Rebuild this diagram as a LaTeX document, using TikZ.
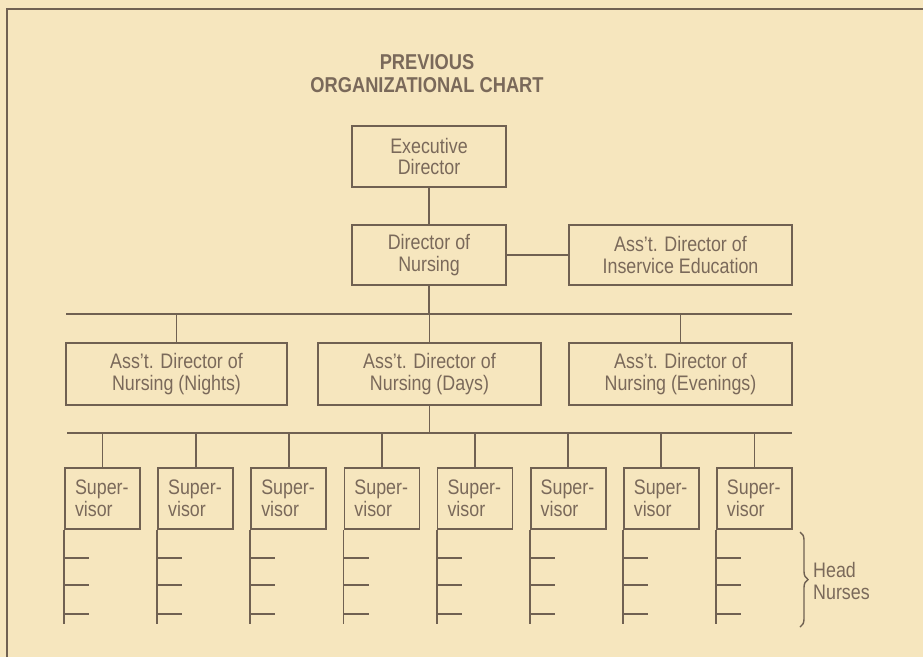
\documentclass[tikz,border=0pt]{standalone}
\usepackage{fontspec}
\setmainfont{Liberation Sans}[FakeStretch=0.85]
\usetikzlibrary{decorations.pathreplacing}

\definecolor{paper}{RGB}{246,230,190}
\definecolor{rulec}{RGB}{112,97,82}
\definecolor{inkc}{RGB}{122,105,90}

\newcommand{\boxfont}{\fontsize{21}{21.5}\selectfont}
\newcommand{\headfont}{\fontsize{21.5}{23}\selectfont\bfseries}

\tikzset{
  link/.style={draw=rulec, line width=1.8pt},
  chartbox/.style={draw=rulec, line width=1.8pt, text=inkc, font=\boxfont,
    align=center, inner sep=0pt},
  supbox/.style={draw=rulec, line width=1.8pt, text=inkc, font=\boxfont,
    align=left, text width=55pt, inner xsep=10pt, inner ysep=0pt,
    minimum height=61pt},
  label/.style={text=inkc, font=\boxfont, align=left, inner sep=0pt},
}

\begin{document}
\begin{tikzpicture}[x=1pt, y=-1pt]
  % paper and page rules
  \fill[paper] (0,0) rectangle (923,657);
  \useasboundingbox (0,0) rectangle (923,657);
  \draw[rulec, line width=2.4pt] (7,657) -- (7,9) -- (923,9);

  % heading
  \node[text=inkc, font=\headfont, align=center, inner sep=0pt] (title)
    at (427,73.5) {PREVIOUS\\ORGANIZATIONAL CHART};

  % top levels
  \node[chartbox, minimum width=154pt, minimum height=61pt] (exec)
    at (429,156.5) {Executive\\Director};
  \node[chartbox, minimum width=154pt, minimum height=60pt] (don)
    at (429,255) {Director of\\Nursing};
  \node[chartbox, minimum width=223pt, minimum height=60pt] (ins)
    at (680.5,255) {Ass't. Director of\\Inservice Education};

  \draw[link] (exec) -- (don);
  \draw[link] (don) -- (ins);

  % assistant directors
  \coordinate (barAL) at (66,314);
  \coordinate (barAR) at (792,314);
  \draw[link] (barAL) -- (barAR);
  \draw[link] (don.south) -- (don.south |- barAL);

  \node[chartbox, minimum width=221pt, minimum height=62pt] (nights)
    at (176.5,374) {Ass't. Director of\\Nursing (Nights)};
  \node[chartbox, minimum width=223pt, minimum height=62pt] (days)
    at (429.5,374) {Ass't. Director of\\Nursing (Days)};
  \node[chartbox, minimum width=223pt, minimum height=62pt] (eves)
    at (680.5,374) {Ass't. Director of\\Nursing (Evenings)};

  \foreach \n in {nights,days,eves}
    \draw[link] (\n.north) -- (\n.north |- barAL);

  % supervisors
  \coordinate (barBL) at (67,433);
  \coordinate (barBR) at (792,433);
  \draw[link] (barBL) -- (barBR);
  \draw[link] (days.south) -- (days.south |- barBL);

  \foreach \i in {0,...,7} {
    \pgfmathsetmacro{\cx}{65+93.14*\i+37.5}
    \node[supbox] (sup\i) at (\cx,498.5) {Super-\\visor};
    \draw[link] (sup\i.north) -- (sup\i.north |- barBL);
    % head nurse ticks
    \draw[link] (sup\i.south west) -- ++(0,94);
    \foreach \dy in {28,55,84}
      \draw[link] ([yshift=-\dy pt]sup\i.south west) -- ++(25,0);
  }

  % head nurses brace
  \coordinate (brT) at (800,532);
  \coordinate (brB) at (800,627);
  \draw[rulec, line width=1.4pt, decorate,
        decoration={brace, amplitude=8pt}] (brT) -- (brB);
  \node[label, anchor=west] (hn) at (813,581) {Head\\Nurses};
\end{tikzpicture}
\end{document}
